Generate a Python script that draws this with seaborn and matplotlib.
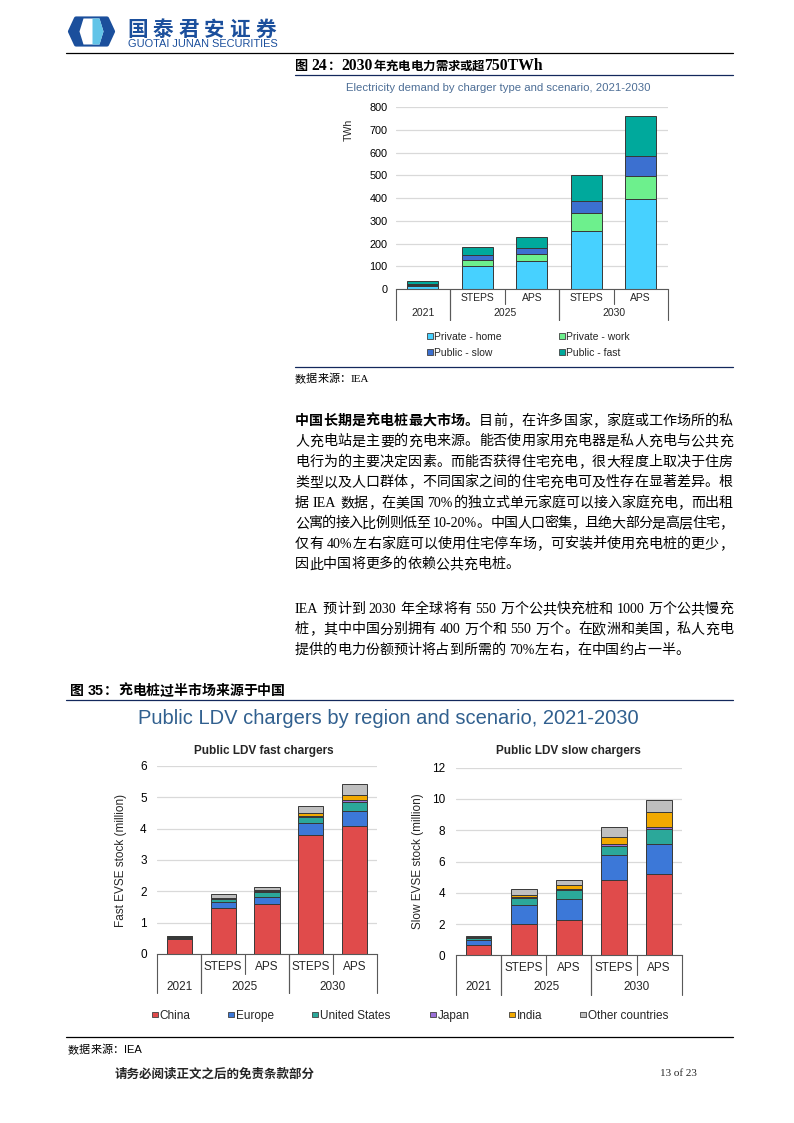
import re
import numpy as np
import matplotlib
matplotlib.use("Agg")
import matplotlib.pyplot as plt
from matplotlib.lines import Line2D
from matplotlib.patches import Rectangle, Polygon
import seaborn as sns

# ---------------- data ----------------
bar_ids = ["2021", "2025 STEPS", "2025 APS", "2030 STEPS", "2030 APS"]
scenario_labels = ["", "STEPS", "APS", "STEPS", "APS"]
year_labels = ["2021", "2025", "2030"]
year_spans = [(0, 0), (1, 2), (3, 4)]

demand_labels = ["Private - home", "Private - work", "Public - slow", "Public - fast"]
private_home = [13, 103, 123, 257, 396]
private_work = [5, 25, 31, 76, 100]
public_slow = [6, 20, 28, 55, 91]
public_fast = [10, 38, 46, 116, 174]
demand_ticks = [0, 100, 200, 300, 400, 500, 600, 700, 800]

region_labels = ["China", "Europe", "United States", "Japan", "India", "Other countries"]
fast_china = [0.47, 1.46, 1.61, 3.80, 4.10]
fast_europe = [0.04, 0.19, 0.22, 0.37, 0.45]
fast_us = [0.03, 0.10, 0.15, 0.19, 0.31]
fast_japan = [0.01, 0.03, 0.03, 0.06, 0.07]
fast_india = [0.01, 0.02, 0.03, 0.08, 0.16]
fast_other = [0.02, 0.10, 0.10, 0.23, 0.32]
fast_ticks = [0, 1, 2, 3, 4, 5, 6]

slow_china = [0.68, 2.02, 2.28, 4.80, 5.18]
slow_europe = [0.28, 1.22, 1.32, 1.60, 1.94]
slow_us = [0.12, 0.45, 0.58, 0.59, 0.94]
slow_japan = [0.03, 0.07, 0.08, 0.11, 0.17]
slow_india = [0.03, 0.08, 0.26, 0.49, 0.94]
slow_other = [0.08, 0.40, 0.30, 0.64, 0.77]
slow_ticks = [0, 2, 4, 6, 8, 10, 12]

para1_lines = [
    [("中国长期是充电桩最大市场。", "bold"), ("目前，在许多国家，家庭或工作场所的私", "normal")],
    [("人充电站是主要的充电来源。能否使用家用充电器是私人充电与公共充", "normal")],
    [("电行为的主要决定因素。而能否获得住宅充电，很大程度上取决于住房", "normal")],
    [("类型以及人口群体，不同国家之间的住宅充电可及性存在显著差异。根", "normal")],
    [("据 IEA 数据，在美国 70%的独立式单元家庭可以接入家庭充电，而出租", "normal")],
    [("公寓的接入比例则低至 10-20%。中国人口密集，且绝大部分是高层住宅，", "normal")],
    [("仅有 40%左右家庭可以使用住宅停车场，可安装并使用充电桩的更少，", "normal")],
    [("因此中国将更多的依赖公共充电桩。", "normal")],
]
para2_lines = [
    [("IEA 预计到 2030 年全球将有 550 万个公共快充桩和 1000 万个公共慢充", "normal")],
    [("桩，其中中国分别拥有 400 万个和 550 万个。在欧洲和美国，私人充电", "normal")],
    [("提供的电力份额预计将占到所需的 70%左右，在中国约占一半。", "normal")],
]

# ---------------- styles ----------------
demand_colors = ["#47d1ff", "#6df08d", "#3c70d0", "#00a99c"]
region_colors = ["#e04b4b", "#3c78d8", "#2ba89a", "#9b70d8", "#f2a900", "#bfbfbf"]
NAVY = "#13285c"
EDGE = "#383838"
AXIS = "#595959"

sns.set_theme(style="white")
plt.rcParams["font.family"] = ["Liberation Sans", "Noto Sans CJK SC"]
SERIF_CJK = ["Liberation Serif", "Noto Sans CJK SC"]
SANS_CJK = ["Liberation Sans", "Noto Sans CJK SC"]

W, H = 794, 1123
fig = plt.figure(figsize=(W / 100, H / 100), dpi=100)
fig.patch.set_facecolor("white")
renderer = fig.canvas.get_renderer()


def fx(x):
    return x / W


def fy(y):
    return 1 - y / H


def ftext(x, y, s, **kw):
    return fig.text(fx(x), fy(y), s, **kw)


def hline(x0, x1, y, color=NAVY, lw=0.9):
    fig.add_artist(Line2D([fx(x0), fx(x1)], [fy(y), fy(y)], color=color, lw=lw,
                          transform=fig.transFigure))


TOKEN_RE = re.compile(r"[A-Za-z0-9%\-\.]+|\s+|.")


def draw_line(x0, x1, y_base, segments, fs, family=SERIF_CJK, justify=True, color="black"):
    items = []
    for seg in segments:
        text, wt = seg[0], seg[1]
        size = seg[2] if len(seg) > 2 else fs
        for tok in TOKEN_RE.findall(text):
            items.append((tok, wt, size))
    arts = []
    for tok, wt, size in items:
        em = size * 100 / 72
        if tok.isspace():
            arts.append((None, em * 0.25))
            continue
        t = fig.text(0, fy(y_base), tok, fontsize=size, family=family, fontweight=wt,
                     ha="left", va="baseline", color=color)
        if len(tok) == 1 and ord(tok) > 0x2E80:
            w = em
        else:
            w = t.get_window_extent(renderer).width + em * 0.06
        arts.append((t, w))
    total = sum(w for _, w in arts)
    n = len(arts)
    gap = ((x1 - x0) - total) / (n - 1) if (justify and n > 1) else 0.0
    x = x0
    for t, w in arts:
        if t is not None:
            t.set_x(fx(x))
        x += w + gap


def make_axes(left, right, y0, ytop):
    return fig.add_axes([fx(left), fy(y0), (right - left) / W, (y0 - ytop) / H])


def stacked_bars(ax, series_list, colors, width):
    bottom = np.zeros(len(bar_ids))
    for vals, c in zip(series_list, colors):
        sns.barplot(x=bar_ids, y=list(vals), order=bar_ids, ax=ax, color=c,
                    bottom=bottom.copy(), width=width, saturation=1,
                    edgecolor=EDGE, linewidth=0.7, errorbar=None)
        bottom += np.array(vals, dtype=float)


def style_axes(ax, ticks, fs, pad):
    ax.set_xlim(-0.5, 4.5)
    ax.set_ylim(0, ticks[-1])
    ax.set_yticks(ticks)
    ax.set_yticklabels([str(t) for t in ticks])
    ax.set_xticks([])
    ax.set_xlabel("")
    ax.set_ylabel("")
    for s in ["left", "top", "right"]:
        ax.spines[s].set_visible(False)
    ax.spines["bottom"].set_color(AXIS)
    ax.spines["bottom"].set_linewidth(0.8)
    ax.yaxis.grid(True, color="#d9d9d9", lw=0.9)
    ax.xaxis.grid(False)
    ax.set_axisbelow(True)
    ax.tick_params(axis="y", length=0, labelsize=fs, pad=pad, colors="black")
    ax.patch.set_alpha(0)


def category_axis(ax, fs, y_scen, y_year, y_long, y_short):
    tr = ax.get_xaxis_transform()
    for i, s in enumerate(scenario_labels):
        if s:
            ax.text(i, y_scen, s, transform=tr, ha="center", va="center", fontsize=fs)
    for lab, (a, b) in zip(year_labels, year_spans):
        ax.text((a + b) / 2, y_year, lab, transform=tr, ha="center", va="center", fontsize=fs)
        for xb in (a - 0.5, b + 0.5):
            ax.add_line(Line2D([xb, xb], [0, y_long], transform=tr, color=AXIS, lw=0.8, clip_on=False))
        for k in range(a, b):
            ax.add_line(Line2D([k + 0.5, k + 0.5], [0, y_short], transform=tr, color=AXIS, lw=0.8, clip_on=False))


def legend_item(x, y, color, label, fs, size=5.5):
    fig.add_artist(Rectangle((fx(x), fy(y + size / 2)), size / W, size / H, facecolor=color,
                             edgecolor="#404040", lw=0.6, transform=fig.transFigure))
    em = fs * 100 / 72
    ftext(x + size + 2.0, y + 0.36 * em, label, fontsize=fs, va="baseline", ha="left")


# ---------------- header ----------------
logo = fig.add_axes([fx(66), fy(50), 52 / W, 36 / H])
logo.set_xlim(66, 118)
logo.set_ylim(50, 14)
logo.axis("off")
logo.add_patch(Polygon([(70, 31.5), (76, 18.5), (107, 18.5), (113, 31.5), (107, 44.5), (76, 44.5)],
                       closed=True, facecolor="#1b4f9c", edgecolor="#1b4f9c", lw=3.0, joinstyle="round"))
logo.add_patch(Polygon([(79.5, 31.5), (83.5, 18.5), (99.5, 18.5), (103.5, 31.5), (99.5, 44.5), (83.5, 44.5)],
                       closed=True, facecolor="white", edgecolor="none"))
logo.add_patch(Polygon([(92.5, 18.5), (99.5, 18.5), (103.5, 31.5), (99.5, 44.5), (92.5, 44.5)],
                       closed=True, facecolor="#62c4e8", edgecolor="none"))

for k, ch in enumerate("国泰君安证券"):
    ftext(127 + 25.6 * k, 35.5, ch, fontsize=14.8, family=["Noto Sans CJK SC"], fontweight="bold",
          color="#1b4f9c", ha="left", va="baseline")
ftext(127.5, 43.8, "GUOTAI JUNAN SECURITIES", fontsize=7.9, color="#1b4f9c", ha="left", va="center")
hline(66, 733, 53, color="black", lw=0.9)

# ---------------- figure 24 ----------------
draw_line(295, 733, 70, [("图 ", "bold", 9.4), ("24", "bold", 11.3), ("：", "bold", 9.4),
                         ("2030", "bold", 11.3), ("年充电电力需求或超", "bold", 8.9),
                         ("750TWh", "bold", 11.3)], 10, justify=False)
hline(295, 733, 75)
ftext(498, 88, "Electricity demand by charger type and scenario, 2021-2030",
      fontsize=8.2, color="#4d6e96", ha="center", va="center")

ax1 = make_axes(395.7, 668, 289, 107.3)
stacked_bars(ax1, [private_home, private_work, public_slow, public_fast], demand_colors, 0.57)
style_axes(ax1, demand_ticks, 7.8, 6.0)
ax1.set_ylabel("TWh", fontsize=7.6, rotation=90, va="center", ha="center")
ax1.yaxis.set_label_coords(-0.171, 0.875)
category_axis(ax1, 7.5, -0.051, -0.134, -0.171, -0.084)

legend_item(427, 336, demand_colors[0], demand_labels[0], 7.5)
legend_item(559, 336, demand_colors[1], demand_labels[1], 7.5)
legend_item(427, 352, demand_colors[2], demand_labels[2], 7.5)
legend_item(559, 352, demand_colors[3], demand_labels[3], 7.5)
hline(295, 733, 367)
draw_line(295, 733, 382, [("数据来源：IEA", "normal")], 8, justify=False)

# ---------------- body text ----------------
for i, segs in enumerate(para1_lines):
    draw_line(295, 733, 419.5 + 20.5 * i + 5.3, segs, 10.1, justify=(i < len(para1_lines) - 1))
for i, segs in enumerate(para2_lines):
    draw_line(295, 733, 607.8 + 20.3 * i + 5.3, segs, 10.1, justify=(i < len(para2_lines) - 1))

# ---------------- figure 35 ----------------
draw_line(70, 733, 695, [("图 ", "bold", 10), ("35", "bold", 10.4), ("：充电桩过半市场来源于中国", "bold", 10)],
          10, family=SANS_CJK, justify=False)
hline(66, 733, 700)
ftext(388.5, 718, "Public LDV chargers by region and scenario, 2021-2030",
      fontsize=14.5, color="#31608f", ha="center", va="center")

ax2 = make_axes(157.3, 376.7, 954, 766)
stacked_bars(ax2, [fast_china, fast_europe, fast_us, fast_japan, fast_india, fast_other], region_colors, 0.57)
style_axes(ax2, fast_ticks, 8.5, 7.6)
ax2.set_ylabel("Fast EVSE stock (million)", fontsize=8.5, va="center", ha="center")
ax2.yaxis.set_label_coords(-0.165, 0.5)
category_axis(ax2, 8.5, -0.068, -0.174, -0.207, -0.106)
ftext(264.3, 750.7, "Public LDV fast chargers", fontsize=8.5, fontweight="bold", ha="center", va="center")

ax3 = make_axes(456, 681.7, 955.3, 767.7)
stacked_bars(ax3, [slow_china, slow_europe, slow_us, slow_japan, slow_india, slow_other], region_colors, 0.57)
style_axes(ax3, slow_ticks, 8.5, 8.0)
ax3.set_ylabel("Slow EVSE stock (million)", fontsize=8.5, va="center", ha="center")
ax3.yaxis.set_label_coords(-0.168, 0.5)
category_axis(ax3, 8.5, -0.066, -0.171, -0.212, -0.107)
ftext(568.5, 750.7, "Public LDV slow chargers", fontsize=8.5, fontweight="bold", ha="center", va="center")

legend_xs = [151.7, 228.3, 312.3, 430.0, 509.0, 580.0]
for lx, c, lab in zip(legend_xs, region_colors, region_labels):
    legend_item(lx, 1014.5, c, lab, 8.5, size=5.8)

hline(66, 733, 1037, color="black")
draw_line(68, 733, 1053, [("数据来源：IEA", "normal")], 8, family=SANS_CJK, justify=False)

# ---------------- footer ----------------
ftext(115, 1074, "请务必阅读正文之后的免责条款部分", fontsize=9, fontweight="bold",
      family=["Noto Sans CJK SC"], ha="left", va="center")
ftext(660, 1074, "13 of 23", fontsize=8, family=["Liberation Serif"], ha="left", va="center")

fig.savefig("out.png", dpi=100, facecolor="white")
